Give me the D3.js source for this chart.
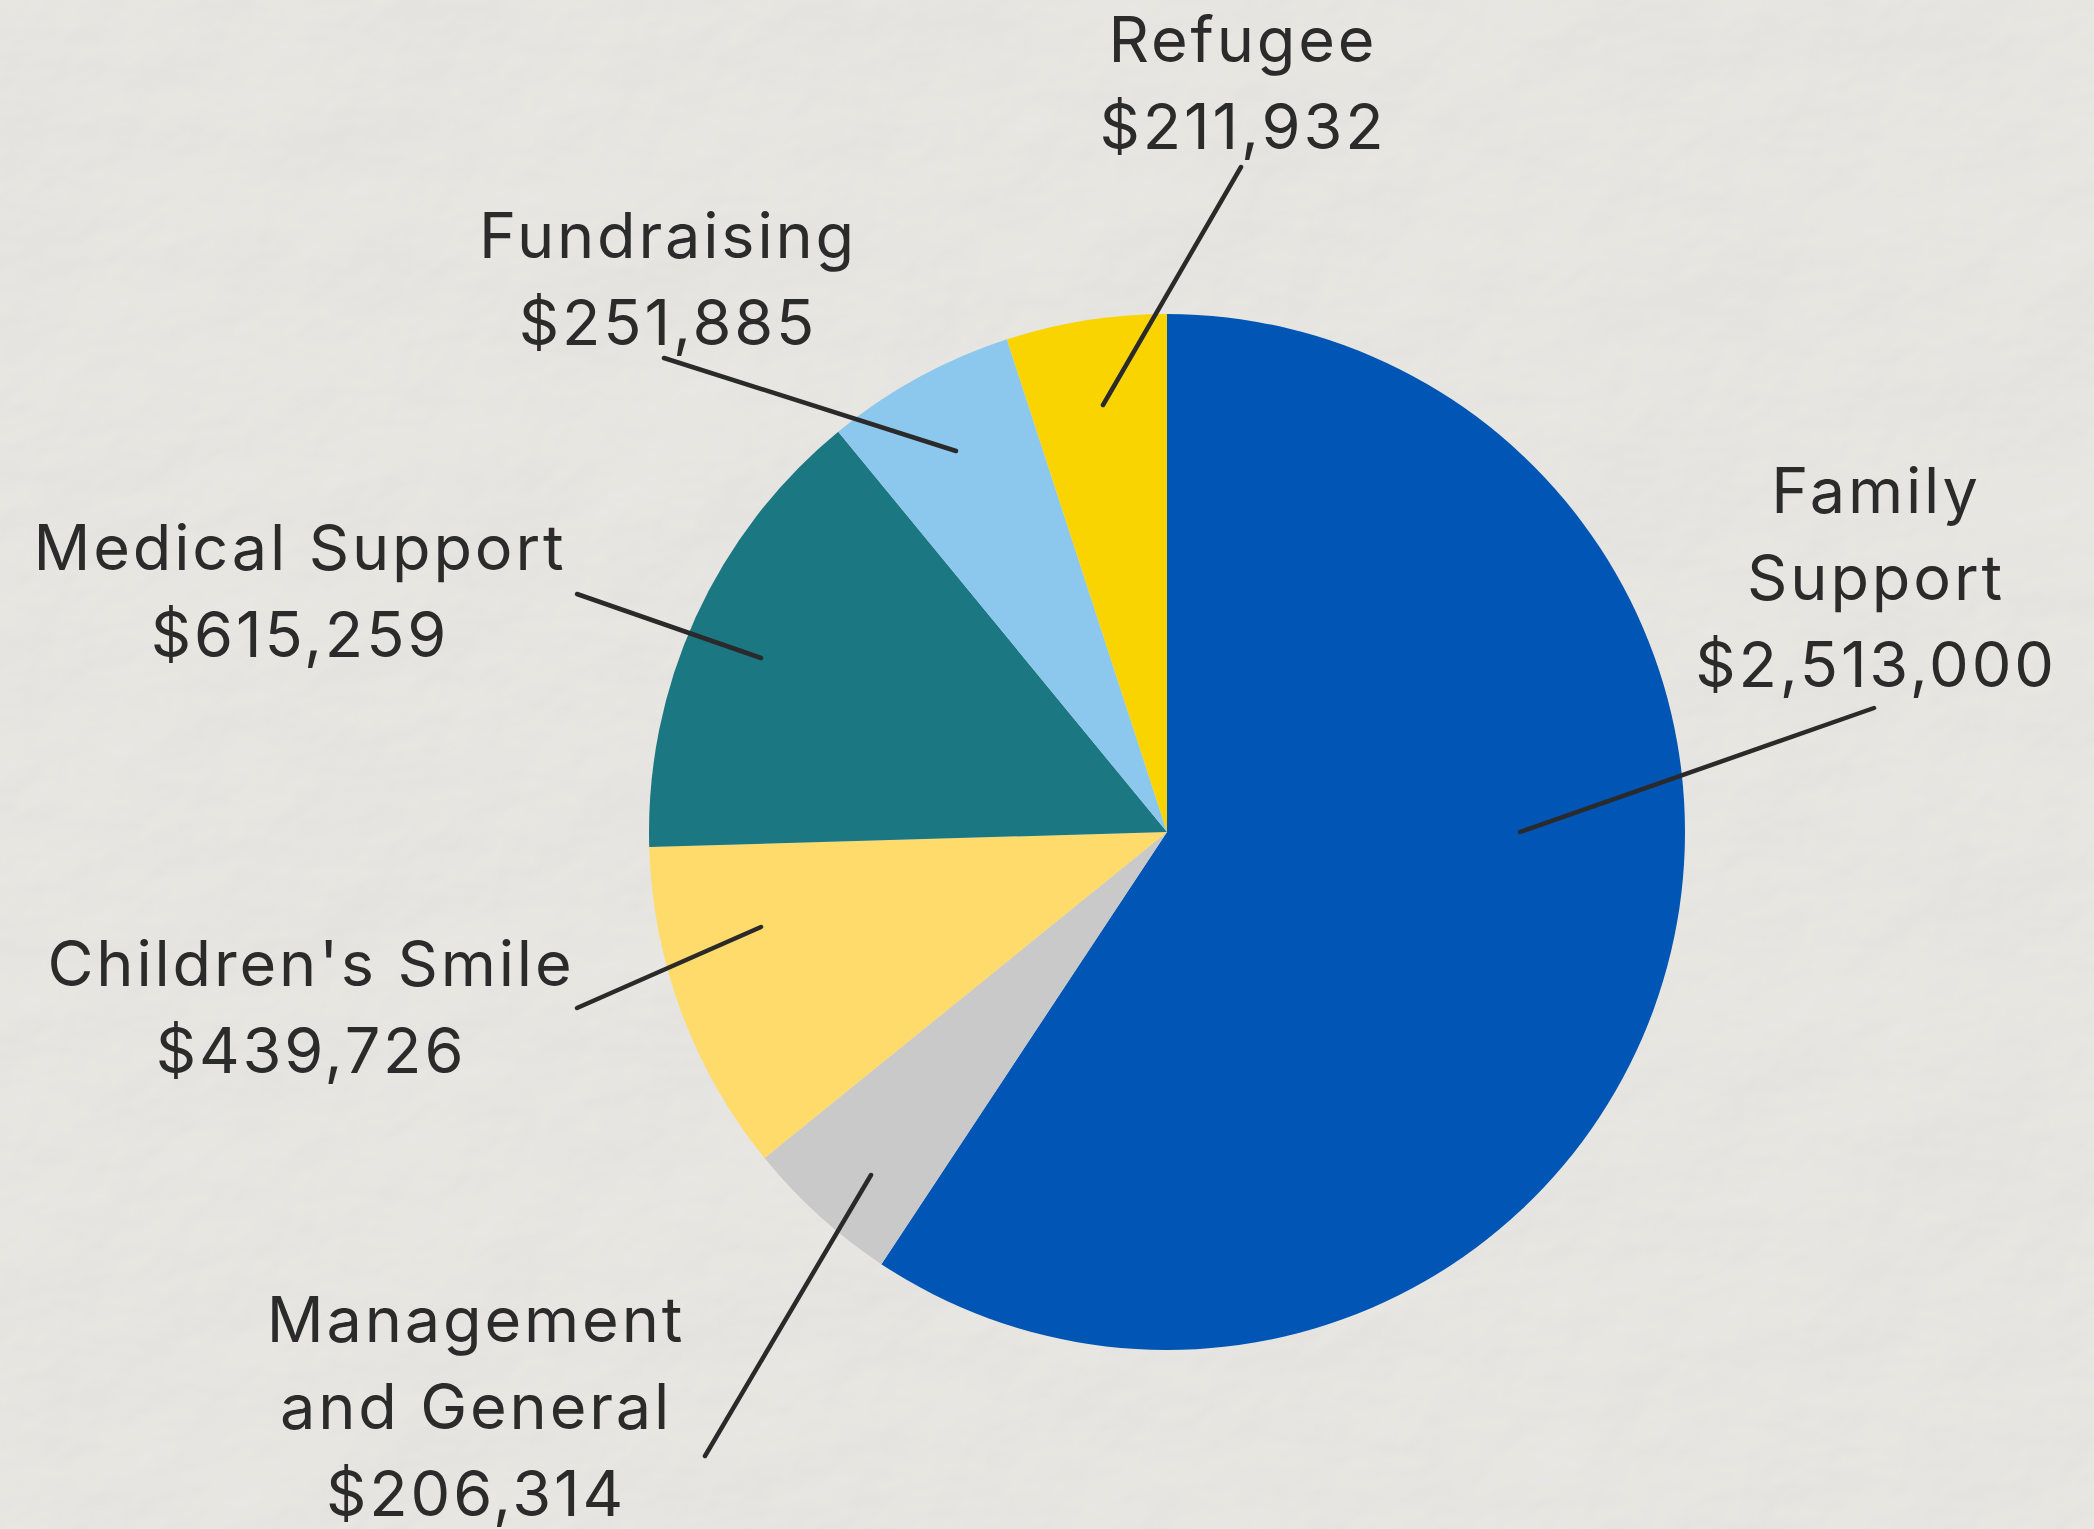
<!DOCTYPE html>
<html>
<head>
<meta charset="utf-8">
<script src="https://cdn.jsdelivr.net/npm/d3@7"></script>
<style>
  html, body { margin: 0; padding: 0; background: #ecebe6; }
  svg { display: block; }
</style>
</head>
<body>
<div class="chart"></div>
<script>
const width = 2094;
const height = 1529;

// data, clockwise from 12 o'clock
const categories = ["Family Support", "Management and General", "Children's Smile", "Medical Support", "Fundraising", "Refugee"];
const amounts = [2513000, 206314, 439726, 615259, 251885, 211932];
const labelLines = [["Family", "Support"], ["Management", "and General"], ["Children's Smile"], ["Medical Support"], ["Fundraising"], ["Refugee"]];
const colors = ["#0055b5", "#c9c9c9", "#ffdb6b", "#1b7782", "#8cc7ed", "#f9d400"];

// label placement, offsets from the pie centre (px)
const labelPos = [
  { tx: 709, ty: -319, inner: [353, 0], outer: [707, -124] },
  { tx: -691, ty: 510, inner: [-296, 343], outer: [-462, 624] },
  { tx: -856, ty: 154, inner: [-406, 95], outer: [-590, 176] },
  { tx: -867, ty: -262, inner: [-406, -174], outer: [-590, -238] },
  { tx: -499, ty: -574, inner: [-211, -381], outer: [-503, -474] },
  { tx: 76, ty: -770, inner: [-64, -427], outer: [74, -665] }
];

const cx = 1167, cy = 832, radius = 518;
const lineHeight = 87;
const fmt = d3.format("$,");

const data = categories.map((c, i) => ({ name: c, value: amounts[i], lines: labelLines[i], color: colors[i], pos: labelPos[i] }));

const svg = d3.select(".chart")
  .append("svg")
  .attr("width", width)
  .attr("height", height);

// crumpled paper background
const defs = svg.append("defs");
const paper = defs.append("filter")
  .attr("id", "paper")
  .attr("x", 0).attr("y", 0).attr("width", "100%").attr("height", "100%");
paper.append("feTurbulence")
  .attr("type", "fractalNoise")
  .attr("baseFrequency", "0.004 0.005")
  .attr("numOctaves", 5)
  .attr("seed", 11)
  .attr("result", "noise");
paper.append("feDiffuseLighting")
  .attr("in", "noise")
  .attr("lighting-color", "#f3f2ee")
  .attr("surfaceScale", 3)
  .attr("result", "light")
  .append("feDistantLight")
  .attr("azimuth", 235)
  .attr("elevation", 60);

svg.append("rect")
  .attr("width", width)
  .attr("height", height)
  .attr("fill", "#ecebe6");
svg.append("rect")
  .attr("width", width)
  .attr("height", height)
  .attr("filter", "url(#paper)")
  .attr("opacity", 0.7);

const g = svg.append("g").attr("transform", `translate(${cx},${cy})`);

const pie = d3.pie().value(d => d.value).sort(null);
const arc = d3.arc().innerRadius(0).outerRadius(radius);

g.selectAll("path.slice")
  .data(pie(data))
  .enter()
  .append("path")
  .attr("class", "slice")
  .attr("d", arc)
  .attr("fill", d => d.data.color);

g.selectAll("line.leader")
  .data(data)
  .enter()
  .append("line")
  .attr("class", "leader")
  .attr("x1", d => d.pos.inner[0])
  .attr("y1", d => d.pos.inner[1])
  .attr("x2", d => d.pos.outer[0])
  .attr("y2", d => d.pos.outer[1])
  .attr("stroke", "#2a2a2a")
  .attr("stroke-width", 4.5)
  .attr("stroke-linecap", "round");

const labels = g.selectAll("text.label")
  .data(data)
  .enter()
  .append("text")
  .attr("class", "label")
  .attr("text-anchor", "middle")
  .attr("fill", "#2b2b2b")
  .style("font-family", "Inter, 'Open Sans', sans-serif")
  .style("font-size", "63px")
  .style("letter-spacing", "0.045em");

labels.each(function (d) {
  const t = d3.select(this);
  const rows = d.lines.concat([fmt(d.value)]);
  rows.forEach((r, i) => {
    t.append("tspan")
      .attr("x", d.pos.tx)
      .attr("y", d.pos.ty + i * lineHeight)
      .text(r);
  });
});
</script>
</body>
</html>
